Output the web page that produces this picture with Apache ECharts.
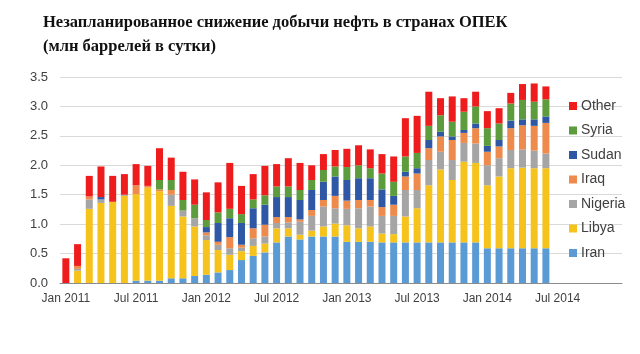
<!DOCTYPE html>
<html lang="ru">

<head>
    <meta charset="UTF-8">
    <title>OPEC outages</title>
    <style>
        * {
            margin: 0;
            padding: 0;
        }

        #main {
            width: 640px;
            height: 354px;
            background-color: #fff;
        }
    </style>
</head>
<script src="https://cdn.jsdelivr.net/npm/echarts@6/dist/echarts.min.js"></script>

<body>
    <div id="main"></div>
    <script>
        // months on the axis: Jan 2011 .. Dec 2014 (data ends Jun 2014)
        const monthNames = ['Jan', 'Feb', 'Mar', 'Apr', 'May', 'Jun', 'Jul', 'Aug', 'Sep', 'Oct', 'Nov', 'Dec'];
        const years = [2011, 2012, 2013, 2014];
        const months = [];
        years.forEach(y => monthNames.forEach(m => months.push(m + ' ' + y)));

        // million barrels per day, Jan 2011 .. Jun 2014
        const iran = [0, 0, 0, 0, 0, 0, 0.04, 0.04, 0.04, 0.08, 0.08, 0.12,
            0.14, 0.18, 0.22, 0.39, 0.46, 0.52, 0.69, 0.79, 0.74, 0.79, 0.79, 0.79,
            0.70, 0.70, 0.70, 0.69, 0.69, 0.69, 0.69, 0.69, 0.69, 0.69, 0.69, 0.69,
            0.59, 0.59, 0.59, 0.59, 0.59, 0.59];
        const libya = [0, 0.21, 1.26, 1.36, 1.38, 1.48, 1.47, 1.58, 1.52, 1.23, 1.05, 0.84,
            0.59, 0.38, 0.26, 0.15, 0.17, 0.15, 0.24, 0.14, 0.08, 0.10, 0.17, 0.22,
            0.28, 0.23, 0.26, 0.15, 0.14, 0.44, 0.58, 0.97, 1.24, 1.06, 1.37, 1.35,
            1.07, 1.22, 1.36, 1.37, 1.36, 1.36];
        const nigeria = [0, 0.03, 0.16, 0.06, 0, 0.02, 0, 0, 0, 0.19, 0.10, 0.14,
            0.08, 0.09, 0.11, 0.06, 0.13, 0.12, 0.09, 0.10, 0.22, 0.25, 0.34, 0.26,
            0.28, 0.34, 0.34, 0.30, 0.31, 0.45, 0.31, 0.43, 0.30, 0.34, 0.32, 0.33,
            0.34, 0.31, 0.31, 0.31, 0.30, 0.25];
        const iraq = [0, 0.05, 0.05, 0, 0, 0, 0.15, 0.03, 0.03, 0.08, 0, 0,
            0.05, 0.05, 0.19, 0.05, 0.17, 0.20, 0.10, 0.09, 0.04, 0.10, 0.11, 0.21,
            0.14, 0.14, 0.11, 0.15, 0.19, 0.23, 0.28, 0.20, 0.26, 0.34, 0.17, 0.26,
            0.23, 0.20, 0.37, 0.41, 0.42, 0.52];
        const sudan = [0, 0, 0, 0.04, 0, 0, 0, 0, 0, 0, 0, 0,
            0.09, 0.32, 0.32, 0.37, 0.34, 0.34, 0.34, 0.34, 0.33, 0.34, 0.31, 0.33,
            0.35, 0.37, 0.37, 0.30, 0.15, 0.08, 0.09, 0.14, 0.08, 0.06, 0.05, 0.08,
            0.10, 0.11, 0.13, 0.10, 0.11, 0.11];
        const syria = [0, 0, 0, 0, 0, 0, 0, 0, 0.16, 0.17, 0.18, 0.23,
            0.12, 0.18, 0.16, 0.15, 0.15, 0.16, 0.18, 0.18, 0.17, 0.17, 0.20, 0.17,
            0.22, 0.22, 0.17, 0.27, 0.24, 0.26, 0.26, 0.24, 0.28, 0.25, 0.31, 0.29,
            0.30, 0.28, 0.29, 0.33, 0.30, 0.29];
        const other = [0.42, 0.37, 0.35, 0.52, 0.44, 0.35, 0.36, 0.34, 0.54, 0.38, 0.48, 0.43,
            0.47, 0.51, 0.78, 0.48, 0.43, 0.50, 0.38, 0.48, 0.46, 0.25, 0.27, 0.28,
            0.31, 0.34, 0.32, 0.33, 0.43, 0.65, 0.63, 0.58, 0.29, 0.43, 0.23, 0.25,
            0.29, 0.26, 0.18, 0.27, 0.31, 0.22];

        const seriesNames = ['Iran', 'Libya', 'Nigeria', 'Iraq', 'Sudan', 'Syria', 'Other'];
        const seriesData = [iran, libya, nigeria, iraq, sudan, syria, other];
        const colors = ['#5b9bd5', '#f5c31c', '#a5a5a5', '#ed8a4c', '#2e58a6', '#5d9c3c', '#ee1c1c'];

        var myChart = echarts.init(document.getElementById('main'));
        var option = {
            animation: false,
            backgroundColor: '#fff',
            title: {
                text: 'Незапланированное снижение добычи нефть в странах ОПЕК\n(млн баррелей в сутки)',
                left: 38,
                top: 6,
                textStyle: {
                    fontFamily: '"Liberation Serif", serif',
                    fontWeight: 'bold',
                    fontSize: 16.5,
                    lineHeight: 24,
                    color: '#111'
                }
            },
            legend: {
                orient: 'vertical',
                left: 564,
                top: 94,
                itemWidth: 8,
                itemHeight: 8,
                itemGap: 10.5,
                icon: 'rect',
                data: ['Other', 'Syria', 'Sudan', 'Iraq', 'Nigeria', 'Libya', 'Iran'],
                textStyle: {
                    fontFamily: '"Liberation Sans", Arial, sans-serif',
                    fontSize: 14,
                    color: '#404040',
                    padding: [0, 0, 0, -1]
                }
            },
            grid: {
                left: 60,
                right: 18,
                top: 77,
                bottom: 71
            },
            xAxis: {
                type: 'category',
                data: months,
                axisLine: { lineStyle: { color: '#8c8c8c' } },
                axisTick: { interval: 0, length: 3, lineStyle: { color: '#8c8c8c' } },
                axisLabel: {
                    interval: 5,
                    margin: 10,
                    fontFamily: '"Liberation Sans", Arial, sans-serif',
                    fontSize: 12,
                    color: '#404040',
                    formatter: v => (v.startsWith('Jan') || v.startsWith('Jul')) ? v : ''
                }
            },
            yAxis: {
                type: 'value',
                min: 0,
                max: 3.5,
                interval: 0.5,
                axisLine: { show: false },
                axisTick: { show: false },
                splitLine: { lineStyle: { color: '#d9d9d9' } },
                axisLabel: {
                    margin: 12,
                    fontFamily: '"Liberation Sans", Arial, sans-serif',
                    fontSize: 13,
                    color: '#404040',
                    formatter: v => v.toFixed(1)
                }
            },
            series: seriesNames.map((name, i) => ({
                name: name,
                type: 'bar',
                stack: 'total',
                barWidth: 7,
                itemStyle: { color: colors[i] },
                data: seriesData[i]
            }))
        };
        option && myChart.setOption(option);
    </script>
</body>

</html>
